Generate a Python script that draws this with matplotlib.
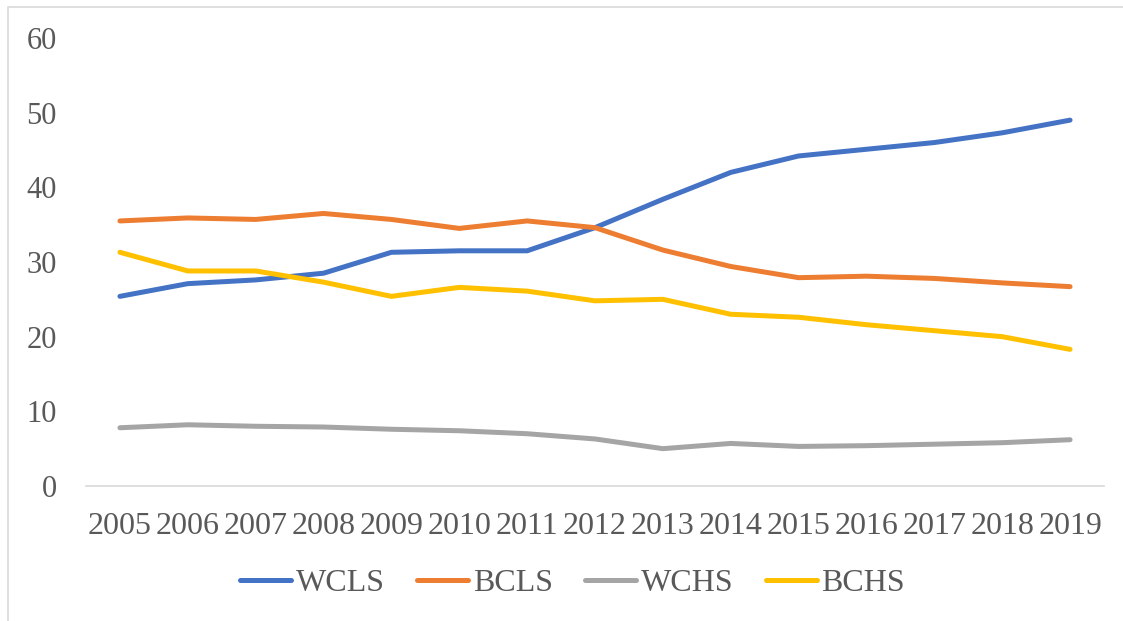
import matplotlib.pyplot as plt
from matplotlib.patches import Rectangle

# data
years = [str(y) for y in range(2005, 2020)]
wcls = [25.4, 27.1, 27.6, 28.5, 31.3, 31.5, 31.5, 34.6, 38.4, 42.0, 44.2, 45.1, 46.0, 47.3, 49.0]
bcls = [35.5, 35.9, 35.7, 36.5, 35.7, 34.5, 35.5, 34.6, 31.6, 29.4, 27.9, 28.1, 27.8, 27.2, 26.7]
wchs = [7.8, 8.2, 8.0, 7.9, 7.6, 7.4, 7.0, 6.3, 5.0, 5.7, 5.3, 5.4, 5.6, 5.8, 6.2]
bchs = [31.3, 28.8, 28.8, 27.3, 25.4, 26.6, 26.1, 24.8, 25.0, 23.0, 22.6, 21.6, 20.8, 20.0, 18.3]

series = [("WCLS", wcls, "#4472C4"), ("BCLS", bcls, "#ED7D31"),
          ("WCHS", wchs, "#A5A5A5"), ("BCHS", bchs, "#FFC000")]

plt.rcParams['font.family'] = ['Liberation Serif', 'DejaVu Serif']

fig = plt.figure(figsize=(11.23, 6.21), dpi=100)
W, H = 1123, 621
ax = fig.add_axes([86 / W, 1 - 486 / H, (1104 - 86) / W, (486 - 38) / H])

x = list(range(len(years)))
for name, vals, col in series:
    ax.plot(x, vals, color=col, linewidth=3.6, label=name, solid_capstyle='round')

ax.set_xlim(-0.5, len(years) - 0.5)
ax.set_ylim(0, 60)
ax.set_yticks(range(0, 61, 10))
ax.set_xticks(x)
ax.set_xticklabels(years)

for s in ['top', 'right', 'left']:
    ax.spines[s].set_visible(False)
ax.spines['bottom'].set_color('#D9D9D9')
ax.spines['bottom'].set_linewidth(1.2)
ax.tick_params(axis='both', length=0, labelcolor='#595959')
ax.tick_params(axis='y', pad=21, labelsize=22)
ax.tick_params(axis='x', pad=19, labelsize=23)

leg = fig.legend(loc='center', bbox_to_anchor=(0.51, 1 - 583 / H), ncol=4, frameon=False,
                 fontsize=23, handlelength=1.6, columnspacing=1.0, handletextpad=0.15)
for t in leg.get_texts():
    t.set_color('#595959')
for h in leg.get_lines():
    h.set_solid_capstyle('round')

# chart border (only top and left edges fall inside the picture)
fig.patches.append(Rectangle((8 / W, -0.1), 1.2, 1.1 - 7 / H, transform=fig.transFigure,
                             fill=False, edgecolor='#D9D9D9', linewidth=1.2))

fig.savefig('out.png', dpi=100)
